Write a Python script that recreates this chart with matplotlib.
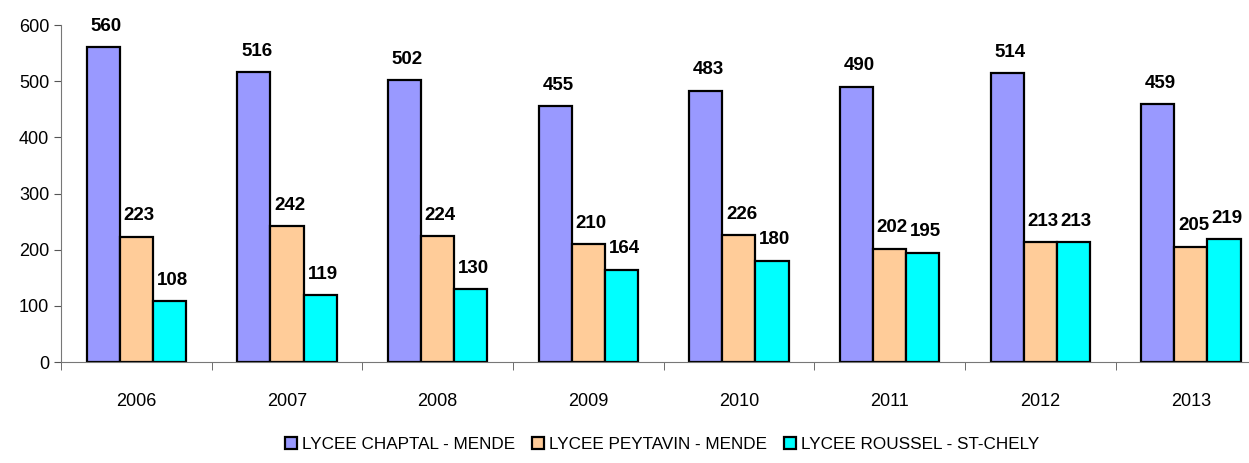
import matplotlib.pyplot as plt
import numpy as np

# Data
years = ['2006', '2007', '2008', '2009', '2010', '2011', '2012', '2013']
chaptal = [560, 516, 502, 455, 483, 490, 514, 459]
peytavin = [223, 242, 224, 210, 226, 202, 213, 205]
roussel = [108, 119, 130, 164, 180, 195, 213, 219]
series_names = ['LYCEE CHAPTAL - MENDE', 'LYCEE PEYTAVIN - MENDE', 'LYCEE ROUSSEL - ST-CHELY']
colors = ['#9999FF', '#FFCC99', '#00FFFF']

plt.rcParams['font.family'] = ['Liberation Sans', 'DejaVu Sans']

fig = plt.figure(figsize=(12.49, 4.63), dpi=100)
ax = fig.add_axes([0.0488, 0.218, 0.965, 0.728])

x = np.arange(len(years))
w = 0.22
for i, (vals, c, name) in enumerate(zip([chaptal, peytavin, roussel], colors, series_names)):
    pos = x + (i - 1) * w
    ax.bar(pos, vals, width=w, color=c, edgecolor='black', linewidth=1.6, label=name)
    for p, v in zip(pos, vals):
        ax.annotate(str(v), (p, v), xytext=(2, 9), textcoords='offset points',
                    ha='center', va='bottom', fontsize=13.5, fontweight='bold')

ax.set_xlim(-0.5, len(years) - 0.5)
ax.set_ylim(0, 600)
ax.set_yticks(range(0, 601, 100))
ax.set_xticks(x)
ax.set_xticklabels(years)
ax.set_xticks(np.arange(-0.5, len(years), 1), minor=True)
ax.tick_params(axis='x', which='major', length=0, pad=22, labelsize=13)
ax.tick_params(axis='x', which='minor', length=6, color='#555555', direction='out')
ax.tick_params(axis='y', length=5, color='#555555', labelsize=13)

for s in ['top', 'right']:
    ax.spines[s].set_visible(False)
ax.spines['left'].set_color('#777777')
ax.spines['bottom'].set_color('#777777')

fig.legend(loc='lower center', bbox_to_anchor=(0.53, -0.01), ncol=3, frameon=False,
           fontsize=12.3, handlelength=0.7, handleheight=0.7, handletextpad=0.3, columnspacing=1.0)

plt.savefig('out.png', dpi=100)
